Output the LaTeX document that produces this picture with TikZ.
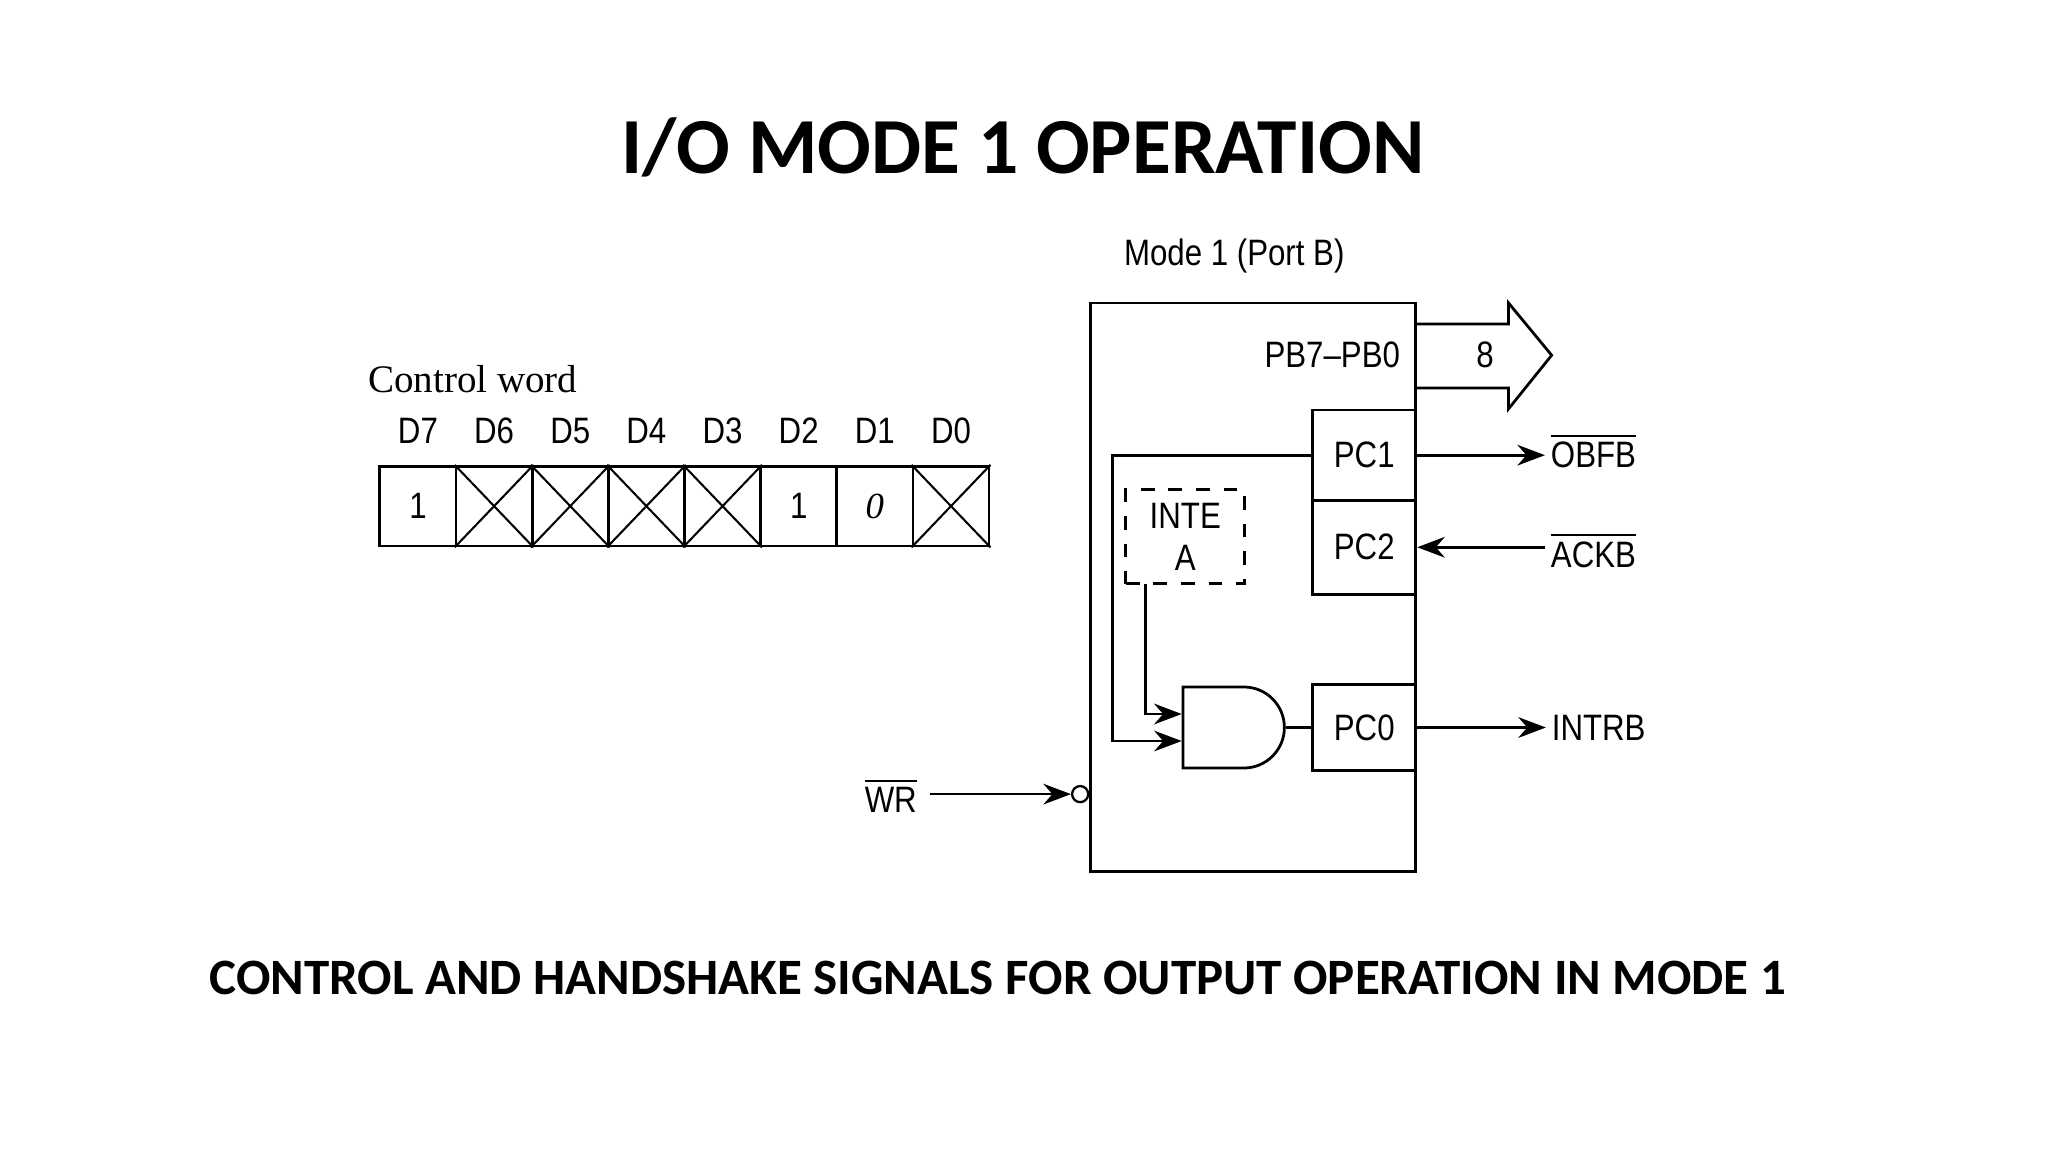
\documentclass[tikz,border=0pt]{standalone}
\usepackage{fontspec}
\setmainfont{Carlito}
\newfontfamily\dfont{Liberation Sans}[FakeStretch=0.85]
\newfontfamily\sfont{Liberation Serif}
\usetikzlibrary{arrows.meta,shapes.gates.logic.US}
\begin{document}
\begin{tikzpicture}[x=0.01cm,y=-0.01cm,line width=0.6pt,
  lbl/.style={font=\dfont\fontsize{8}{9}\selectfont,inner sep=1pt},
  sig/.style={-{Stealth[length=6pt,width=4.5pt]}},
  cell/.style={draw,minimum width=0.583cm,minimum height=0.61cm,inner sep=0pt}]
\useasboundingbox (0,0) rectangle (1568,882);
\node[font=\bfseries\fontsize{17.3}{18}\selectfont] (title) at (783,113) {I/O MODE 1 OPERATION};
\node[font=\bfseries\fontsize{11.1}{12}\selectfont] (cap) at (764,749) {CONTROL AND HANDSHAKE SIGNALS FOR OUTPUT OPERATION IN MODE 1};
\node[lbl] (mode) at (945,196) {Mode 1 (Port B)};
\draw (835,232) rectangle (1084,667);
\node[lbl] (pb) at (1020,272) {PB7\textendash PB0};
\draw (1084,248) -- (1155,248) -- (1155,232) -- (1188,272) -- (1155,313) -- (1155,297) -- (1084,297);
\node[lbl] (eight) at (1137,272) {8};
\node[draw,minimum width=0.79cm,minimum height=0.69cm,lbl] (pc1) at (1044.5,348.5) {PC1};
\node[draw,minimum width=0.79cm,minimum height=0.72cm,lbl] (pc2) at (1044.5,419) {PC2};
\node[draw,minimum width=0.79cm,minimum height=0.66cm,lbl] (pc0) at (1044.5,557) {PC0};
\node[lbl] (obf) at (1220,345) {$\overline{\mbox{OBFB}}$};
\node[lbl] (ack) at (1220,421) {$\overline{\mbox{ACKB}}$};
\node[lbl] (intr) at (1224,557) {INTRB};
\draw[sig] (pc1.east) -- (obf.west |- pc1.east);
\draw[sig] (ack.west |- pc2.east) -- (pc2.east);
\draw[sig] (pc0.east) -- (intr.west);
\node[draw,dashed,minimum width=0.91cm,minimum height=0.72cm,lbl,align=center] (inte) at (907.5,411) {INTE\\A};
\node[and gate US,draw,logic gate inputs=nn,minimum width=0.75cm,minimum height=0.62cm,anchor=center] (and) at (942,557) {};
\draw (and.output) -- (pc0.west);
\draw[sig] (pc1.west) -- (852,348.5) |- (and.input 2);
\draw[sig] (877,447) |- (and.input 1);
\node[lbl] (wr) at (682,609) {$\overline{\mbox{WR}}$};
\node[circle,draw,inner sep=0pt,minimum size=3.5pt,line width=0.5pt] (bub) at (827,608) {};
\draw[sig] (712,608) -- (bub.west);
\node[font=\sfont\fontsize{8.5}{9}\selectfont,inner sep=1pt] (cw) at (362,290) {Control word};
\foreach \i/\t in {0/7,1/6,2/5,3/4,4/3,5/2,6/1,7/0}{
  \node[lbl] (d\t) at (320+58.3*\i,330) {D\t};
  \node[cell] (c\t) at (320+58.3*\i,387.5) {};
}
\node[lbl] at (c7) {1};
\node[lbl] at (c2) {1};
\node[lbl] at (c1) {\sfont\itshape 0};
\foreach \t in {6,5,4,3,0}{
  \draw[line width=0.45pt] (c\t.north west) -- (c\t.south east) (c\t.south west) -- (c\t.north east);
}
\end{tikzpicture}
\end{document}
